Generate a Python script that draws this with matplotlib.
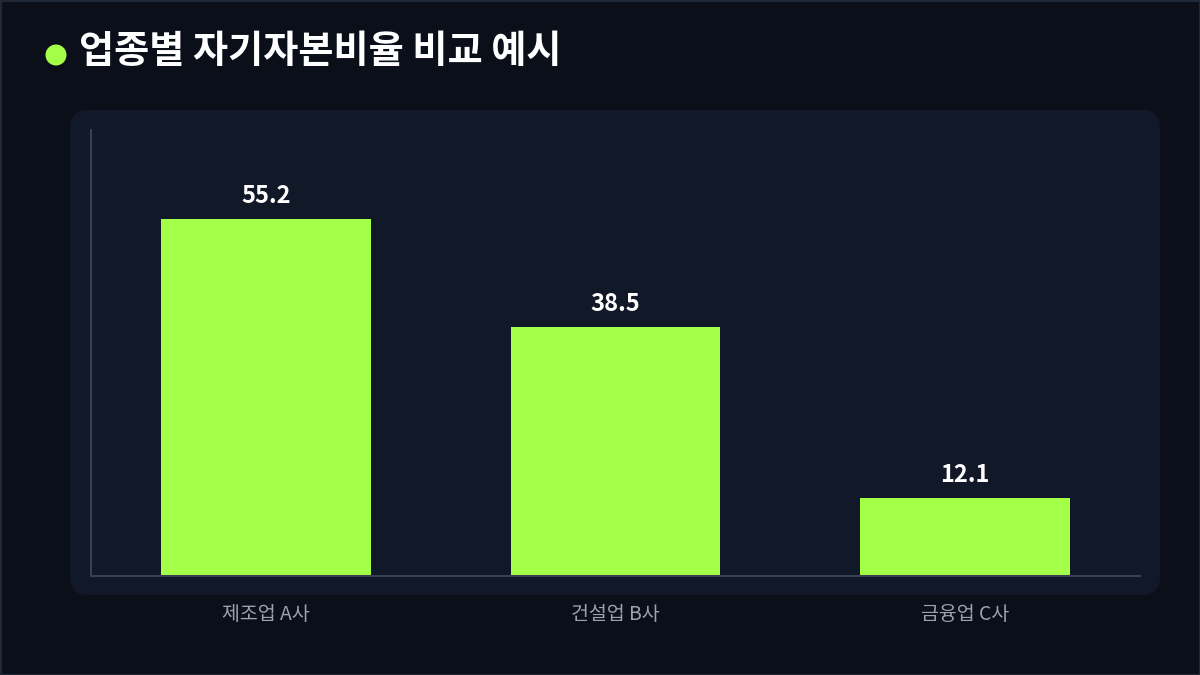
import matplotlib
matplotlib.use("Agg")
import matplotlib.pyplot as plt
from matplotlib.patches import FancyBboxPatch, Rectangle, Ellipse

plt.rcParams['font.family'] = ['Noto Sans CJK KR', 'DejaVu Sans']

title = "업종별 자기자본비율 비교 예시"
categories = ["제조업 A사", "건설업 B사", "금융업 C사"]
values = [55.2, 38.5, 12.1]

W, H = 1200, 675
BG = "#0b0f19"
PANEL = "#111827"
BAR = "#a3ff47"
SPINE = "#374151"
TICK = "#9ca3af"

fig = plt.figure(figsize=(W/100, H/100), dpi=100)
fig.patch.set_facecolor(BG)

# outer border
fig.patches.append(Rectangle((0.5/W, 0.5/H), 1 - 1/W, 1 - 1/H, transform=fig.transFigure,
                             fill=False, edgecolor="#1f2937", linewidth=1.5, zorder=-2))

# panel
px0, py0, px1, py1 = 70, 110, 1160, 595
r = 18
fig.patches.append(FancyBboxPatch((px0/W, 1 - py1/H), (px1 - px0)/W, (py1 - py0)/H,
                                  boxstyle=f"round,pad=0,rounding_size={r/W}",
                                  mutation_aspect=W/H,
                                  transform=fig.transFigure, facecolor=PANEL,
                                  edgecolor="none", zorder=-1))

# title
fig.patches.append(Ellipse((56/W, 1 - 55/H), 21/W, 21/H, transform=fig.transFigure,
                           facecolor=BAR, edgecolor="none"))
fig.text(79/W, 1 - 51/H, title, color="white", fontsize=27.5, fontweight="bold",
         va="center", ha="left")

# axes
ax0, ay0, ax1, ay1 = 91, 130, 1140, 576
ax = fig.add_axes([ax0/W, 1 - ay1/H, (ax1 - ax0)/W, (ay1 - ay0)/H], zorder=1)
ax.set_facecolor("none")
x = list(range(len(categories)))
bars = ax.bar(x, values, width=0.6, color=BAR, zorder=2)
ax.set_xlim(-0.5, 2.5)
ax.set_ylim(0, 69)
ax.set_xticks(x)
ax.set_xticklabels(categories, color=TICK, fontsize=14, fontweight="medium")
ax.tick_params(axis='x', length=0, pad=20)
ax.set_yticks([])
for s in ["top", "right"]:
    ax.spines[s].set_visible(False)
for s in ["left", "bottom"]:
    ax.spines[s].set_color(SPINE)
    ax.spines[s].set_linewidth(1.5)

for xi, v in zip(x, values):
    ax.annotate(f"{v}", (xi, v), xytext=(0, 8), textcoords="offset points",
                ha="center", va="bottom", color="white", fontsize=17, fontweight="bold")

fig.savefig("out.png", dpi=100, facecolor=BG)
